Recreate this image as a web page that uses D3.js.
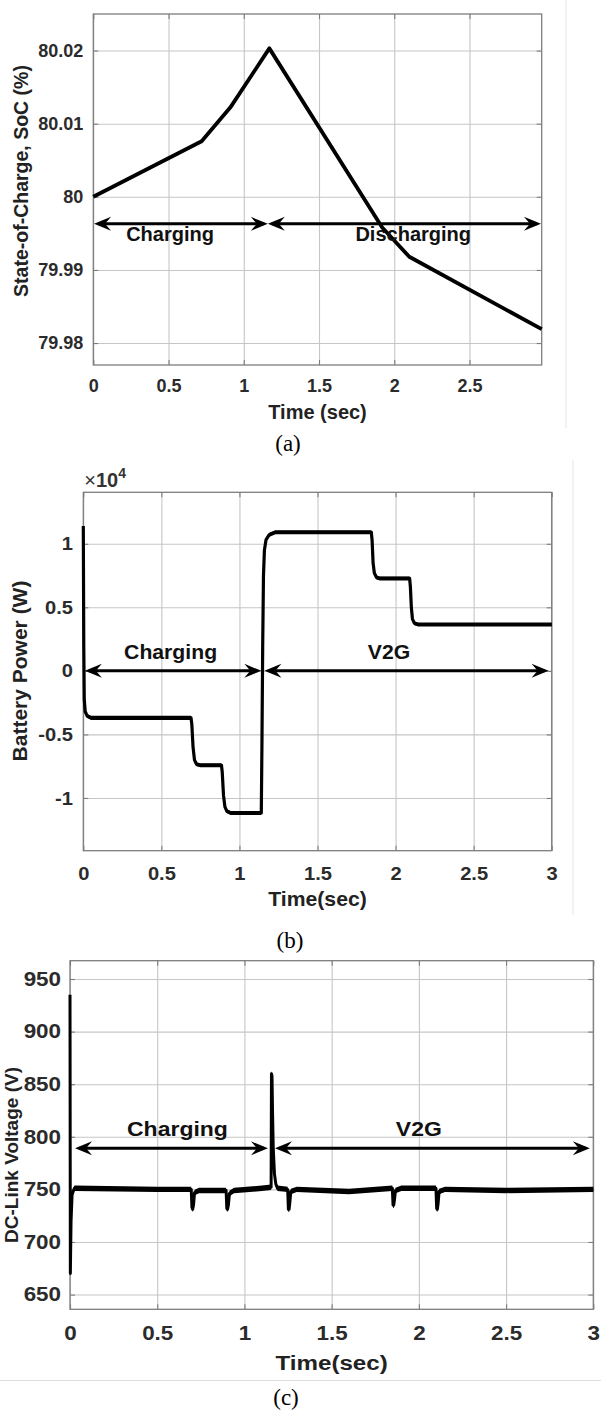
<!DOCTYPE html>
<html>
<head>
<meta charset="utf-8">
<script src="https://cdn.jsdelivr.net/npm/d3@7/dist/d3.min.js"></script>
<style>
  body { margin: 0; background: #fff; }
  svg text { font-family: "Liberation Sans", Arial, sans-serif; }
</style>
</head>
<body>
<div id="chart"></div>
<script>

// ---- (a) state of charge ----
var socSeries = [[0, 80], [0.72, 80.0076], [0.91, 80.0122], [1.17, 80.0203],
                 [1.92, 79.9958], [2.1, 79.9918], [2.98, 79.9819]];
var socYTicks = [79.98, 79.99, 80, 80.01, 80.02];
var socYLabels = ["79.98", "79.99", "80", "80.01", "80.02"];
var socXTicks = [0, 0.5, 1, 1.5, 2, 2.5];
var socXLabels = ["0", "0.5", "1", "1.5", "2", "2.5"];
var socArrows = [{from: 0.005, to: 1.16, text: "Charging", at: 0.51},
                 {from: 1.16, to: 2.975, text: "Discharging", at: 2.126}];
var socArrowLevel = 79.9963;

// ---- (b) battery power, x10^4 W ----
var powerSeries = [[0, 1.14], [0.003, 0.2], [0.006, -0.22], [0.012, -0.32], [0.025, -0.355],
                   [0.05, -0.37], [0.69, -0.37], [0.695, -0.42], [0.703, -0.6], [0.712, -0.7],
                   [0.725, -0.735], [0.75, -0.743], [0.885, -0.743], [0.89, -0.8], [0.898, -0.98],
                   [0.907, -1.07], [0.92, -1.105], [0.945, -1.118], [1.14, -1.118], [1.144, -0.6],
                   [1.149, 0.2], [1.154, 0.75], [1.16, 0.95], [1.17, 1.03], [1.19, 1.07],
                   [1.23, 1.09], [1.845, 1.09], [1.85, 1.02], [1.856, 0.85], [1.864, 0.77],
                   [1.878, 0.735], [1.9, 0.727], [2.09, 0.727], [2.095, 0.66], [2.101, 0.5],
                   [2.108, 0.41], [2.12, 0.375], [2.145, 0.365], [3, 0.365]];
var powerYTicks = [-1, -0.5, 0, 0.5, 1];
var powerYLabels = ["-1", "-0.5", "0", "0.5", "1"];
var timeTicks = [0, 0.5, 1, 1.5, 2, 2.5, 3];
var timeLabels = ["0", "0.5", "1", "1.5", "2", "2.5", "3"];
var powerArrows = [{from: 0.01, to: 1.14, text: "Charging", at: 0.559},
                   {from: 1.16, to: 2.98, text: "V2G", at: 1.958}];
var powerArrowLevel = 0;

// ---- (c) DC-link voltage ----
var voltSeries = [[0, 935], [0.002, 670], [0.006, 720], [0.012, 745], [0.025, 751],
                  [0.5, 750], [0.695, 750], [0.699, 733], [0.703, 731], [0.708, 735],
                  [0.714, 747], [0.74, 749], [0.895, 749], [0.899, 732], [0.903, 731],
                  [0.908, 735], [0.914, 746], [0.94, 749], [1.1, 751], [1.153, 752],
                  [1.155, 860], [1.158, 858], [1.161, 825], [1.165, 790], [1.172, 765],
                  [1.18, 755], [1.19, 751], [1.248, 750], [1.252, 731], [1.256, 731],
                  [1.26, 737], [1.266, 748], [1.3, 750], [1.6, 748], [1.848, 751],
                  [1.852, 735], [1.856, 735], [1.86, 740], [1.866, 749], [1.9, 751],
                  [2.098, 751], [2.102, 732], [2.106, 731], [2.11, 736], [2.116, 748],
                  [2.15, 750], [2.5, 749], [3, 750]];
var voltYTicks = [650, 700, 750, 800, 850, 900, 950];
var voltYLabels = ["650", "700", "750", "800", "850", "900", "950"];
var voltArrows = [{from: 0.029, to: 1.135, text: "Charging", at: 0.616},
                  {from: 1.175, to: 2.98, text: "V2G", at: 2.0}];
var voltArrowLevel = 789;

var svg = d3.select("#chart").append("svg")
    .attr("width", 601)
    .attr("height", 1412);

// faint borders left over from the pasted figures
svg.append("line").attr("x1", 566).attr("x2", 566).attr("y1", 0).attr("y2", 428)
    .attr("stroke", "#eeeeee").attr("stroke-width", 1.5);
svg.append("line").attr("x1", 573).attr("x2", 573).attr("y1", 460).attr("y2", 915)
    .attr("stroke", "#eeeeee").attr("stroke-width", 1.5);
svg.append("line").attr("x1", 0).attr("x2", 601).attr("y1", 1380.5).attr("y2", 1380.5)
    .attr("stroke", "#dddddd").attr("stroke-width", 1);

var panels = [
  { box: {left: 93.3, right: 541.7, top: 14, bottom: 365},
    xDomain: [0, 2.98], yDomain: [79.977, 80.025],
    series: socSeries, ripple: 0, lineWidth: 3.8,
    xTicks: socXTicks, xLabels: socXLabels, yTicks: socYTicks, yLabels: socYLabels,
    tickSize: 18, sx: 1, xPad: 14.3, yPad: 10,
    arrows: socArrows, arrowLevel: socArrowLevel, labelDy: 17, labelSize: 20,
    xTitle: "Time (sec)", xTitleY: 419, yTitle: "State-of-Charge, SoC (%)",
    yTitleX: 28, yTitleY: 181, yTitleSize: 19.5, titleSize: 20,
    caption: "(a)", captionX: 288, captionY: 451 },
  { box: {left: 83.3, right: 551.7, top: 492.3, bottom: 850.7},
    xDomain: [0, 3], yDomain: [-1.415, 1.405],
    series: powerSeries, ripple: 0.016, lineWidth: 3.2,
    xTicks: timeTicks, xLabels: timeLabels, yTicks: powerYTicks, yLabels: powerYLabels,
    tickSize: 19, sx: 1.06, xPad: 16, yPad: 9.7,
    arrows: powerArrows, arrowLevel: powerArrowLevel, labelDy: -11.5, labelSize: 20,
    xTitle: "Time(sec)", xTitleY: 906, yTitle: "Battery Power (W)",
    yTitleX: 27, yTitleY: 671, yTitleSize: 21, titleSize: 20,
    caption: "(b)", captionX: 290, captionY: 948, exponent: true },
  { box: {left: 70, right: 593.3, top: 960.7, bottom: 1309.3},
    xDomain: [0, 3], yDomain: [636, 967.4],
    series: voltSeries, ripple: 2.6, lineWidth: 3,
    xTicks: timeTicks, xLabels: timeLabels, yTicks: voltYTicks, yLabels: voltYLabels,
    tickSize: 19.5, sx: 1.15, xPad: 16.7, yPad: 7.8,
    arrows: voltArrows, arrowLevel: voltArrowLevel, labelDy: -12, labelSize: 20,
    xTitle: "Time(sec)", xTitleY: 1370, yTitle: "DC-Link Voltage (V)",
    yTitleX: 18, yTitleY: 1155, yTitleSize: 19, titleSize: 21,
    caption: "(c)", captionX: 286, captionY: 1405 }
];

panels.forEach(drawPanel);

function drawPanel(p) {
  var b = p.box;
  var x = d3.scaleLinear().domain(p.xDomain).range([b.left, b.right]);
  var y = d3.scaleLinear().domain(p.yDomain).range([b.bottom, b.top]);
  var g = svg.append("g");

  // grid
  g.append("g").attr("transform", "translate(0," + b.bottom + ")")
    .call(d3.axisBottom(x).tickValues(p.xTicks).tickSize(-(b.bottom - b.top)).tickFormat(""))
    .call(gridStyle);
  g.append("g").attr("transform", "translate(" + b.left + ",0)")
    .call(d3.axisLeft(y).tickValues(p.yTicks).tickSize(-(b.right - b.left)).tickFormat(""))
    .call(gridStyle);

  // inward tick marks on all four sides
  g.append("g").attr("transform", "translate(0," + b.bottom + ")")
    .call(d3.axisBottom(x).tickValues(p.xTicks).tickSize(-5).tickFormat("")).call(tickStyle);
  g.append("g").attr("transform", "translate(0," + b.top + ")")
    .call(d3.axisTop(x).tickValues(p.xTicks).tickSize(-5).tickFormat("")).call(tickStyle);
  g.append("g").attr("transform", "translate(" + b.left + ",0)")
    .call(d3.axisLeft(y).tickValues(p.yTicks).tickSize(-5).tickFormat("")).call(tickStyle);
  g.append("g").attr("transform", "translate(" + b.right + ",0)")
    .call(d3.axisRight(y).tickValues(p.yTicks).tickSize(-5).tickFormat("")).call(tickStyle);

  g.append("rect")
    .attr("x", b.left).attr("y", b.top)
    .attr("width", b.right - b.left).attr("height", b.bottom - b.top)
    .attr("fill", "none").attr("stroke", "#7d7d7d").attr("stroke-width", 1.3);

  // ripple band + trace
  if (p.ripple > 0) {
    g.append("path").datum(p.series)
      .attr("d", d3.area()
        .x(function(d) { return x(d[0]); })
        .y0(function(d) { return y(d[1] - p.ripple); })
        .y1(function(d) { return y(d[1] + p.ripple); }))
      .attr("fill", "#000");
  }
  g.append("path").datum(p.series)
    .attr("d", d3.line().x(function(d) { return x(d[0]); }).y(function(d) { return y(d[1]); }))
    .attr("fill", "none").attr("stroke", "#000")
    .attr("stroke-width", p.lineWidth).attr("stroke-linejoin", "round");

  // double arrows with labels
  var ay = y(p.arrowLevel);
  p.arrows.forEach(function(a) {
    var x1 = x(a.from), x2 = x(a.to);
    g.append("line").attr("x1", x1 + 4).attr("x2", x2 - 4).attr("y1", ay).attr("y2", ay)
      .attr("stroke", "#000").attr("stroke-width", 3);
    g.append("path").attr("d", arrowHead(x1, ay, -1)).attr("fill", "#000");
    g.append("path").attr("d", arrowHead(x2, ay, 1)).attr("fill", "#000");
    g.append("text")
      .attr("transform", "translate(" + x(a.at) + "," + (ay + p.labelDy) + ") scale(" + p.sx + ",1)")
      .attr("text-anchor", "middle")
      .attr("font-size", p.labelSize).attr("font-weight", "bold").attr("fill", "#111")
      .text(a.text);
  });

  // tick labels
  g.append("g").attr("transform", "translate(0," + b.bottom + ")")
    .call(d3.axisBottom(x).tickValues(p.xTicks).tickSize(0).tickPadding(p.xPad)
      .tickFormat(function(d, i) { return p.xLabels[i]; }))
    .call(function(s) { labelStyle(s, p); });
  g.append("g").attr("transform", "translate(" + b.left + ",0)")
    .call(d3.axisLeft(y).tickValues(p.yTicks).tickSize(0).tickPadding(p.yPad)
      .tickFormat(function(d, i) { return p.yLabels[i]; }))
    .call(function(s) { labelStyle(s, p); });

  // axis titles
  g.append("text")
    .attr("transform", "translate(" + ((b.left + b.right) / 2) + "," + p.xTitleY + ") scale(" + p.sx + ",1)")
    .attr("text-anchor", "middle")
    .attr("font-size", p.titleSize).attr("font-weight", "bold").attr("fill", "#222")
    .text(p.xTitle);
  g.append("text")
    .attr("transform", "translate(" + p.yTitleX + "," + p.yTitleY + ") rotate(-90)")
    .attr("text-anchor", "middle")
    .attr("font-size", p.yTitleSize).attr("font-weight", "bold").attr("fill", "#222")
    .text(p.yTitle);

  if (p.exponent) {
    var t = g.append("text").attr("x", b.left + 1).attr("y", b.top - 5).attr("fill", "#333");
    t.append("tspan").attr("font-size", 20).text("\u00d7");
    t.append("tspan").attr("font-size", 20).attr("font-weight", "bold").text("10");
    t.append("tspan").attr("font-size", 14).attr("font-weight", "bold").attr("dy", -9).text("4");
  }

  g.append("text")
    .attr("x", p.captionX).attr("y", p.captionY)
    .attr("text-anchor", "middle")
    .style("font-family", "'Liberation Serif', 'Times New Roman', serif")
    .attr("font-size", 23).attr("fill", "#000")
    .text(p.caption);
}

function gridStyle(s) {
  s.select(".domain").remove();
  s.selectAll("line").attr("stroke", "#c6c6c6").attr("stroke-width", 1.1);
}

function tickStyle(s) {
  s.select(".domain").remove();
  s.selectAll("line").attr("stroke", "#7d7d7d").attr("stroke-width", 1.1);
}

function labelStyle(s, p) {
  s.select(".domain").remove();
  s.attr("font-family", null).attr("font-size", null);
  s.selectAll("text")
    .attr("font-size", p.tickSize).attr("font-weight", "bold").attr("fill", "#2b2b2b")
    .attr("transform", "scale(" + p.sx + ",1)");
}

function arrowHead(tx, ty, dir) {
  return "M" + tx + "," + ty +
    "L" + (tx - dir * 17) + "," + (ty - 7) +
    "L" + (tx - dir * 11) + "," + ty +
    "L" + (tx - dir * 17) + "," + (ty + 7) + "Z";
}
</script>
</body>
</html>
